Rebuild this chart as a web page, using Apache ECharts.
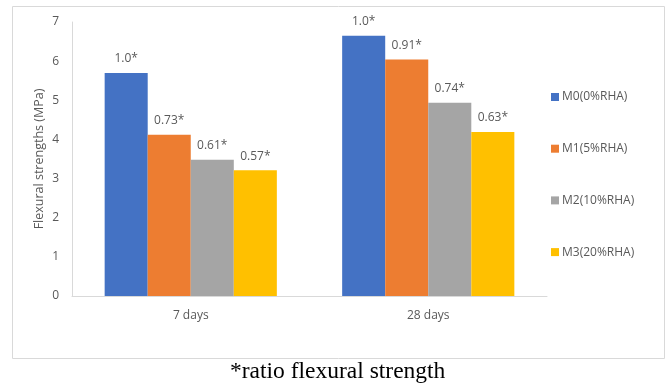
<!DOCTYPE html>
<html>
<head>
<meta charset="utf-8">
<script src="https://cdn.jsdelivr.net/npm/echarts@6/dist/echarts.min.js"></script>
<style>
  html, body { margin: 0; padding: 0; background: #fff; }
  #chart { width: 669px; height: 387px; }
</style>
</head>
<body>
<div id="chart"></div>
<script>
// Curing ages on the category axis
const categories = ['7 days', '28 days'];
// Mix names
const seriesNames = ['M0(0%RHA)', 'M1(5%RHA)', 'M2(10%RHA)', 'M3(20%RHA)'];
// Flexural strength (MPa) per mix, by curing age
const m0 = [5.70, 6.65];
const m1 = [4.12, 6.04];
const m2 = [3.48, 4.94];
const m3 = [3.21, 4.19];
// Strength ratio labels relative to M0
const m0Ratio = ['1.0*', '1.0*'];
const m1Ratio = ['0.73*', '0.91*'];
const m2Ratio = ['0.61*', '0.74*'];
const m3Ratio = ['0.57*', '0.63*'];
const yTicks = [0, 1, 2, 3, 4, 5, 6, 7];

const colors = ['#4472c4', '#ed7d31', '#a5a5a5', '#ffc000'];
const values = [m0, m1, m2, m3];
const ratios = [m0Ratio, m1Ratio, m2Ratio, m3Ratio];
const font = '"Open Sans", "Noto Sans", sans-serif';

const chart = echarts.init(document.getElementById('chart'));
chart.setOption({
  animation: false,
  color: colors,
  grid: { left: 72, right: 122, top: 22, bottom: 91, containLabel: false },
  legend: {
    orient: 'vertical',
    left: 546,
    top: 86,
    itemWidth: 8,
    itemHeight: 8,
    itemGap: 39.7,
    icon: 'rect',
    data: seriesNames,
    textStyle: { color: '#595959', fontSize: 12, fontFamily: font, padding: [0, 0, 0, -2] }
  },
  xAxis: {
    type: 'category',
    data: categories,
    axisLine: { lineStyle: { color: '#d9d9d9', width: 1 } },
    axisTick: { show: false },
    axisLabel: { color: '#595959', fontSize: 12, fontFamily: font, margin: 14 }
  },
  yAxis: {
    type: 'value',
    min: yTicks[0],
    max: yTicks[yTicks.length - 1],
    interval: 1,
    name: 'Flexural strengths (MPa)',
    nameLocation: 'middle',
    nameGap: 26,
    nameMoveOverlap: false,
    nameTextStyle: { color: '#595959', fontSize: 12.5, fontFamily: font },
    axisLine: { show: true, lineStyle: { color: '#d9d9d9', width: 1 } },
    axisTick: { show: false },
    splitLine: { show: false },
    axisLabel: { color: '#595959', fontSize: 12, fontFamily: font, margin: 13 }
  },
  series: seriesNames.map((name, i) => ({
    name,
    type: 'bar',
    data: values[i],
    barGap: '0%',
    barCategoryGap: '27.5%',
    label: {
      show: true,
      position: 'top',
      distance: 8,
      color: '#595959',
      fontSize: 12,
      fontFamily: font,
      formatter: p => ratios[i][p.dataIndex]
    }
  })),
  graphic: [
    {
      type: 'rect',
      shape: { x: 12.5, y: 6.5, width: 652, height: 352 },
      style: { fill: 'none', stroke: '#d9d9d9', lineWidth: 1 },
      silent: true
    },
    {
      type: 'text',
      left: 230,
      top: 360,
      style: {
        text: '*ratio flexural strength',
        fill: '#000',
        font: '23.5px "Liberation Serif", "Times New Roman", serif'
      }
    }
  ]
});
</script>
</body>
</html>
